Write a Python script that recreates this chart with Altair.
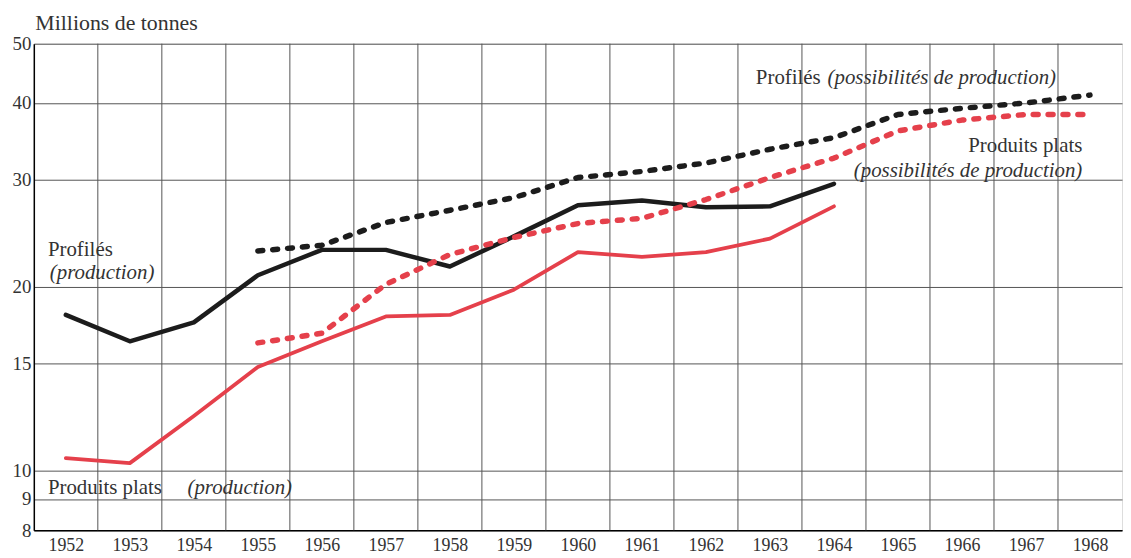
import altair as alt
import pandas as pd

# ---------------- data ----------------
years = list(range(1952, 1969))
prod_years = list(range(1952, 1965))
cap_years = list(range(1955, 1969))

profiles_production = [18.0, 16.3, 17.5, 20.9, 23.0, 23.0, 21.6, 24.2, 27.2, 27.7, 27.0, 27.1, 29.5]
plats_production = [10.5, 10.3, 12.3, 14.8, 16.3, 17.9, 18.0, 19.8, 22.8, 22.4, 22.8, 24.0, 27.1]
profiles_capacity = [22.9, 23.4, 25.5, 26.7, 28.0, 30.2, 30.9, 31.9, 33.6, 35.1, 38.3, 39.2, 40.0, 41.2]
plats_capacity = [16.2, 16.8, 20.2, 22.6, 24.1, 25.4, 25.9, 27.8, 30.2, 32.5, 36.0, 37.5, 38.3, 38.3]

y_ticks = [8, 9, 10, 15, 20, 30, 40, 50]

BLACK = "#1c1c1c"
RED = "#e5404b"
FONT = "'Liberation Serif', 'DejaVu Serif', 'Times New Roman', serif"
TXT = "#333333"

grid_df = pd.DataFrame({"x": [y + 0.5 for y in years[:-1]]})

xscale = alt.Scale(domain=[1951.5, 1968.5], nice=False, zero=False)
yscale = alt.Scale(type="log", domain=[8, 50], nice=False)

xaxis = alt.Axis(values=years, format="d", grid=False, ticks=False,
                 labelFont=FONT, labelFontSize=18, labelColor=TXT,
                 labelPadding=6, domainColor="black", domainWidth=1.5,
                 title=None)
yaxis = alt.Axis(values=y_ticks, format="d", grid=True, gridColor="#555555",
                 gridWidth=1, ticks=False, labelFont=FONT, labelFontSize=19,
                 labelColor=TXT, labelPadding=3, domainColor="black",
                 domainWidth=1.5, title="Millions de tonnes", titleAngle=0,
                 titleX=1, titleY=-14, titleAlign="left",
                 titleBaseline="alphabetic", titleFont=FONT, titleFontSize=22,
                 titleFontWeight="normal", titleColor=TXT)

vgrid = alt.Chart(grid_df).mark_rule(color="#555555", strokeWidth=1).encode(
    x=alt.X("x:Q", scale=xscale, axis=xaxis)
)


def series(yrs, vals, color, width, dash=None):
    d = pd.DataFrame({"year": yrs, "value": vals})
    kw = dict(color=color, strokeWidth=width, strokeCap="round", strokeJoin="round")
    if dash:
        kw["strokeDash"] = dash
    return alt.Chart(d).mark_line(**kw).encode(
        x=alt.X("year:Q", scale=xscale, axis=xaxis),
        y=alt.Y("value:Q", scale=yscale, axis=yaxis),
    )


l_prof_prod = series(prod_years, profiles_production, BLACK, 4.5)
l_plat_prod = series(prod_years, plats_production, RED, 3.8)
l_prof_cap = series(cap_years, profiles_capacity, BLACK, 5.5, [5, 10])
l_plat_cap = series(cap_years, plats_capacity, RED, 5.5, [5, 10])

dummy = pd.DataFrame({"k": [0]})


def label(text, x, y, italic=False, size=21, align="left"):
    return alt.Chart(dummy).mark_text(
        text=text, font=FONT, fontSize=size, fontStyle="italic" if italic else "normal",
        color=TXT, align=align, baseline="alphabetic"
    ).encode(x=alt.datum(x), y=alt.datum(y))


labels = [
    label("Profilés", 1951.72, 22.5),
    label("(production)", 1951.75, 20.6, italic=True),
    label("Produits plats", 1951.72, 9.16),
    label("(production)", 1953.9, 9.16, italic=True),
    label("Profilés", 1962.78, 42.9),
    label("(possibilités de production)", 1963.9, 42.9, italic=True),
    label("Produits plats", 1967.88, 33.3, align="right"),
    label("(possibilités de production)", 1967.88, 30.3, italic=True, align="right"),
]

chart = alt.layer(vgrid, l_prof_prod, l_plat_prod, l_prof_cap, l_plat_cap, *labels).properties(
    width=1096, height=490,
    autosize=alt.AutoSizeParams(type="none"),
    padding={"left": 26, "top": 34, "right": 1, "bottom": 24},
).configure_view(stroke="black", strokeWidth=1.5).configure(background="white")

chart.save("out.html", embed_options={"renderer": "svg", "actions": False})
